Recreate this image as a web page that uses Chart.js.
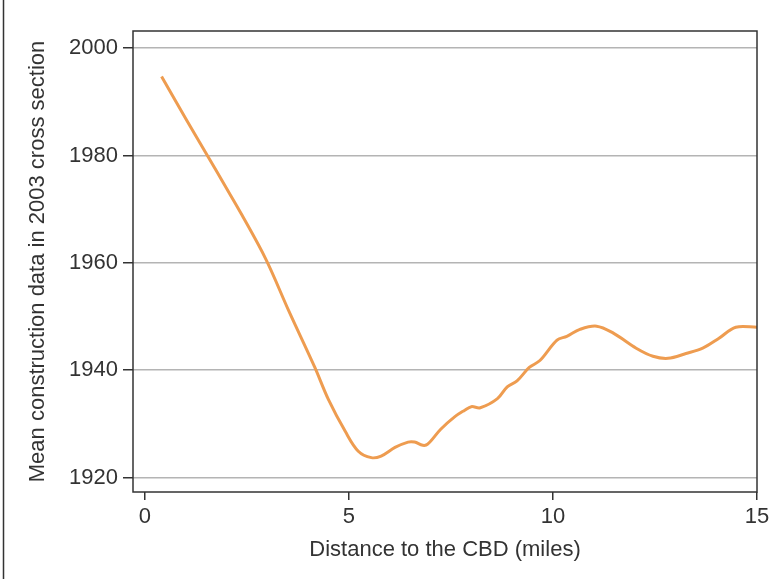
<!DOCTYPE html>
<html>
<head>
<meta charset="utf-8">
<script src="https://cdn.jsdelivr.net/npm/chart.js@4"></script>
<style>
  html, body { margin: 0; padding: 0; background: #fff; }
  canvas { display: block; }
</style>
</head>
<body>
<canvas id="chart" width="778" height="579"></canvas>
<script>
// distance to CBD (miles) and mean construction year
const distance = [0.41, 1.0, 1.51, 2.0, 2.38, 2.97, 3.53, 4.16, 4.5, 4.91, 5.23, 5.55, 5.79, 6.13, 6.45, 6.61, 6.81, 6.93, 7.25, 7.59, 7.83, 8.0, 8.22, 8.64, 8.88, 9.12, 9.42, 9.68, 10.1, 10.34, 10.66, 11.07, 11.48, 12.04, 12.45, 12.82, 13.26, 13.67, 14.06, 14.48, 15.0];
const meanYear = [1994.7, 1986.9, 1980.3, 1973.9, 1968.9, 1960.6, 1951, 1940.6, 1934.5, 1928.6, 1924.9, 1923.7, 1924.0, 1925.6, 1926.6, 1926.6, 1926.0, 1926.2, 1929.0, 1931.3, 1932.5, 1933.2, 1933.0, 1934.7, 1936.9, 1938.0, 1940.5, 1941.8, 1945.6, 1946.3, 1947.6, 1948.2, 1946.9, 1944.1, 1942.6, 1942.2, 1943.1, 1944.1, 1945.9, 1948.0, 1948.0];

const xTicks = [0, 5, 10, 15];
const yTicks = [1920, 1940, 1960, 1980, 2000];

const FONT = "'Liberation Sans', Arial, sans-serif";
const DARK = "#333";

// frame round the plot area plus the thin line on the left edge
const framePlugin = {
    id: "frame",
    afterDraw(chart) {
        const { ctx, chartArea: a } = chart;
        ctx.save();
        ctx.strokeStyle = DARK;
        ctx.lineWidth = 1.5;
        ctx.strokeRect(a.left, a.top, a.right - a.left, a.bottom - a.top);
        ctx.beginPath();
        ctx.moveTo(3.5, 0);
        ctx.lineTo(3.5, chart.height);
        ctx.stroke();
        ctx.restore();
    }
};

new Chart(document.getElementById("chart"), {
    type: "line",
    data: {
        datasets: [{
            data: distance.map((d, i) => ({ x: d, y: meanYear[i] })),
            borderColor: "#EE9C50",
            borderWidth: 3,
            pointRadius: 0,
            tension: 0.35,
            fill: false
        }]
    },
    options: {
        responsive: false,
        animation: false,
        devicePixelRatio: 1,
        layout: { padding: { left: 4, top: 31, right: 21, bottom: 0 } },
        plugins: {
            legend: { display: false },
            tooltip: { enabled: false }
        },
        scales: {
            x: {
                type: "linear",
                min: -0.29,
                max: 15,
                afterFit: s => { s.height = 87; },
                afterBuildTicks: s => { s.ticks = xTicks.map(v => ({ value: v })); },
                grid: {
                    drawOnChartArea: false,
                    drawTicks: true,
                    tickLength: 8,
                    tickColor: DARK,
                    lineWidth: 1.5
                },
                border: { display: false },
                ticks: {
                    color: DARK,
                    padding: 4,
                    maxRotation: 0,
                    callback: v => String(v),
                    font: { family: FONT, size: 22 }
                },
                title: {
                    display: true,
                    text: "Distance to the CBD (miles)",
                    color: DARK,
                    padding: { top: 0, bottom: 16 },
                    font: { family: FONT, size: 22 }
                }
            },
            y: {
                type: "linear",
                min: 1917.3,
                max: 2003.2,
                afterFit: s => { s.width = 129; },
                afterBuildTicks: s => { s.ticks = yTicks.map(v => ({ value: v })); },
                grid: {
                    color: "#b4b4b4",
                    lineWidth: 1.5,
                    drawTicks: true,
                    tickLength: 10,
                    tickColor: DARK
                },
                border: { display: false },
                ticks: {
                    color: DARK,
                    padding: 5,
                    callback: v => String(v),
                    font: { family: FONT, size: 22 }
                },
                title: {
                    display: true,
                    text: "Mean construction data in 2003 cross section",
                    color: DARK,
                    padding: { top: 21, bottom: 0 },
                    font: { family: FONT, size: 22 }
                }
            }
        }
    },
    plugins: [framePlugin]
});
</script>
</body>
</html>
